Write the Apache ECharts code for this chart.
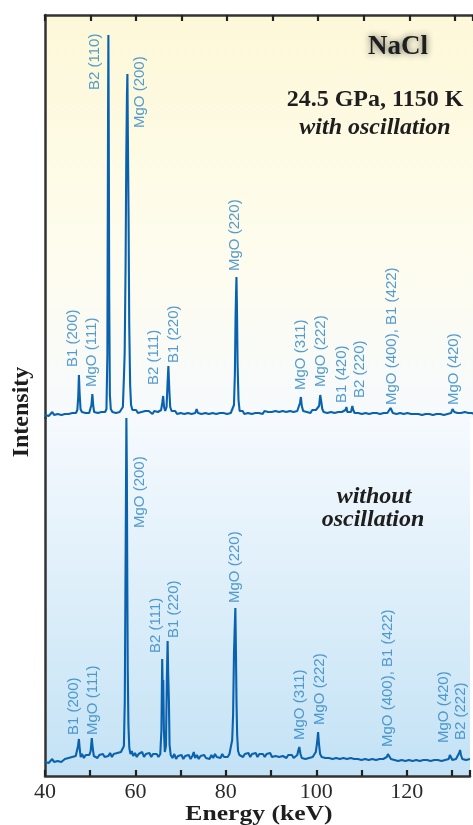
<!DOCTYPE html>
<html>
<head>
<meta charset="utf-8">
<script src="https://cdn.jsdelivr.net/npm/echarts/dist/echarts.min.js"></script>
<style>
  html, body { margin: 0; padding: 0; background: #fff; }
</style>
</head>
<body>
<div id="main" style="width: 473px;height:825px;"></div>
<script type="text/javascript">

    // spectrum with oscillation: [energy keV, intensity]
    var withOsc = [
        [40.0,0],[40.4,2],[40.8,-1],[41.2,1],[41.6,3],[42.0,0],[42.4,2],[42.8,1],[43.2,3],[43.6,0],
        [44.0,2],[44.4,1],[44.8,3],[45.2,1],[45.6,3],[46.0,2],[46.4,4],[46.8,2],[47.1,5],[47.3,18],
        [47.45,40],[47.6,22],[47.8,6],[48.1,3],[48.5,5],[48.9,2],[49.3,4],[49.7,2],[50.0,4],[50.2,10],
        [50.4,21],[50.6,9],[50.8,3],[51.2,5],[51.6,2],[52.0,4],[52.4,3],[52.8,5],[53.2,3],[53.5,6],
        [53.7,60],[53.85,300],[53.92,380],[54.0,290],[54.1,120],[54.25,20],[54.45,6],[54.8,3],[55.2,5],[55.6,2],
        [56.0,4],[56.4,3],[56.8,5],[57.1,8],[57.35,40],[57.5,62],[57.7,150],[57.85,258],[58.0,320],[58.1,341],
        [58.2,280],[58.35,200],[58.5,90],[58.7,30],[58.9,10],[59.2,5],[59.6,3],[60.0,5],[60.4,2],[60.8,4],
        [61.2,3],[61.6,1],[62.0,4],[62.4,2],[62.8,4],[63.2,3],[63.6,1],[64.0,4],[64.4,2],[64.8,3],
        [65.2,2],[65.5,5],[65.75,12],[65.95,19],[66.15,8],[66.4,4],[66.7,8],[66.9,30],[67.1,49],[67.3,25],
        [67.5,8],[67.8,4],[68.2,2],[68.6,4],[69.0,1],[69.4,3],[69.8,2],[70.2,4],[70.6,1],[71.0,3],
        [71.4,2],[71.8,4],[72.2,1],[72.6,3],[73.0,2],[73.3,6],[73.6,2],[74.0,4],[74.4,1],[74.8,3],
        [75.2,2],[75.6,4],[76.0,1],[76.4,3],[76.8,2],[77.2,4],[77.6,1],[78.0,3],[78.4,2],[78.8,4],
        [79.2,2],[79.6,3],[80.0,1],[80.4,3],[80.8,2],[81.2,4],[81.5,10],[81.7,40],[81.85,97],[81.95,120],
        [82.05,138],[82.15,110],[82.3,50],[82.5,15],[82.75,4],[83.0,2],[83.4,4],[83.8,1],[84.2,3],[84.6,2],
        [85.0,4],[85.4,1],[85.8,3],[86.2,2],[86.6,4],[87.0,2],[87.4,3],[87.8,1],[88.2,4],[88.6,2],
        [89.0,3],[89.4,1],[89.8,3],[90.2,2],[90.6,4],[91.0,2],[91.4,3],[91.8,1],[92.2,4],[92.6,2],
        [93.0,3],[93.4,2],[93.8,4],[94.2,2],[94.6,3],[95.0,2],[95.4,4],[95.8,6],[96.0,12],[96.2,18],
        [96.4,9],[96.7,4],[97.1,6],[97.5,3],[97.9,5],[98.3,2],[98.7,5],[99.1,3],[99.5,5],[99.9,4],
        [100.2,9],[100.45,20],[100.65,14],[100.9,6],[101.2,3],[101.6,5],[102.0,2],[102.4,4],[102.8,3],[103.2,5],
        [103.6,2],[104.0,4],[104.4,3],[104.8,5],[105.2,3],[105.6,4],[106.0,5],[106.2,8],[106.4,3],[106.8,4],
        [107.2,3],[107.5,9],[107.7,5],[108.0,2],[108.4,4],[108.8,2],[109.2,3],[109.6,1],[110.0,3],[110.4,2],
        [110.8,4],[111.2,1],[111.6,3],[112.0,2],[112.4,4],[112.8,2],[113.2,3],[113.6,1],[114.0,3],[114.4,2],
        [114.8,4],[115.2,2],[115.6,3],[115.9,7],[116.1,5],[116.4,2],[116.8,3],[117.2,1],[117.6,3],[118.0,2],
        [118.4,3],[118.8,1],[119.2,3],[119.6,2],[120.0,3],[120.4,1],[120.8,2],[121.2,1],[121.6,3],[122.0,1],
        [122.4,2],[122.8,0],[123.2,2],[123.6,1],[124.0,3],[124.4,1],[124.8,2],[125.2,0],[125.6,2],[126.0,1],
        [126.4,3],[126.8,1],[127.2,2],[127.6,0],[128.0,2],[128.4,1],[128.8,3],[129.2,2],[129.5,6],[129.7,8],
        [129.9,3],[130.2,1],[130.6,2],[131.0,0],[131.4,2],[131.8,1],[132.2,3],[132.6,1],[133.0,2],[133.4,0],
        [133.8,2],[134.0,1]
    ];

    // spectrum without oscillation
    var withoutOsc = [
        [40.0,-2],[40.4,0],[40.8,-3],[41.2,-1],[41.6,1],[42.0,-2],[42.4,0],[42.8,-1],[43.2,1],[43.6,-2],
        [44.0,0],[44.4,1],[44.8,-1],[45.2,2],[45.6,0],[46.0,3],[46.4,1],[46.8,4],[47.1,6],[47.3,14],
        [47.5,21],[47.7,10],[47.9,3],[48.2,6],[48.6,2],[49.0,5],[49.4,3],[49.8,5],[50.1,9],[50.35,22],
        [50.55,12],[50.8,4],[51.2,6],[51.6,2],[52.0,5],[52.4,3],[52.8,6],[53.2,3],[53.6,5],[54.0,4],
        [54.4,7],[54.8,3],[55.2,6],[55.6,4],[56.0,7],[56.4,5],[56.8,8],[57.2,6],[57.45,14],[57.65,60],
        [57.8,180],[57.9,260],[58.0,342],[58.1,290],[58.2,180],[58.3,90],[58.45,35],[58.65,12],[58.9,6],[59.2,9],
        [59.5,4],[59.9,7],[60.3,3],[60.7,6],[61.1,4],[61.5,8],[61.9,3],[62.3,6],[62.7,4],[63.1,7],
        [63.5,3],[63.9,6],[64.3,4],[64.7,6],[65.1,3],[65.5,6],[65.75,30],[65.92,101],[66.05,70],[66.15,80],
        [66.3,30],[66.5,8],[66.75,14],[66.95,80],[67.12,119],[67.25,85],[67.4,60],[67.55,15],[67.8,5],[68.2,2],
        [68.6,6],[69.0,1],[69.4,4],[69.8,2],[70.2,5],[70.6,1],[71.0,4],[71.4,2],[71.8,5],[72.2,1],
        [72.6,4],[72.9,8],[73.2,2],[73.6,5],[74.0,1],[74.4,4],[74.8,2],[75.2,5],[75.6,2],[76.0,4],
        [76.4,1],[76.8,5],[77.2,2],[77.6,6],[78.0,3],[78.4,5],[78.8,2],[79.2,6],[79.6,3],[80.0,5],
        [80.4,3],[80.8,6],[81.1,8],[81.4,20],[81.6,45],[81.8,107],[81.95,130],[82.1,152],[82.2,120],[82.35,60],
        [82.5,25],[82.7,9],[83.0,5],[83.4,7],[83.8,3],[84.2,6],[84.6,4],[85.0,7],[85.4,3],[85.8,6],
        [86.2,4],[86.6,7],[87.0,3],[87.4,6],[87.8,4],[88.2,6],[88.6,3],[89.0,6],[89.4,4],[89.8,7],
        [90.2,3],[90.6,5],[91.0,4],[91.4,6],[91.8,3],[92.2,5],[92.6,4],[93.0,6],[93.4,2],[93.8,5],
        [94.2,3],[94.6,5],[95.0,2],[95.4,4],[95.8,5],[96.05,10],[96.25,13],[96.5,6],[96.8,2],[97.2,4],
        [97.6,1],[98.0,3],[98.4,2],[98.8,4],[99.2,3],[99.6,5],[99.9,8],[100.2,18],[100.4,28],[100.6,16],
        [100.85,6],[101.2,3],[101.6,5],[102.0,2],[102.4,4],[102.8,2],[103.2,4],[103.6,1],[104.0,3],[104.4,2],
        [104.8,4],[105.2,1],[105.6,3],[106.0,2],[106.4,4],[106.8,1],[107.2,3],[107.6,2],[108.0,4],[108.4,1],
        [108.8,3],[109.2,1],[109.6,3],[110.0,0],[110.4,2],[110.8,1],[111.2,3],[111.6,0],[112.0,2],[112.4,1],
        [112.8,3],[113.2,0],[113.6,2],[114.0,1],[114.4,3],[114.8,1],[115.2,2],[115.6,3],[115.85,6],[116.0,8],
        [116.2,4],[116.5,1],[116.9,2],[117.3,0],[117.7,2],[118.1,-1],[118.5,1],[118.9,0],[119.3,2],[119.7,-1],
        [120.1,1],[120.5,0],[120.9,2],[121.3,-1],[121.7,1],[122.1,0],[122.5,2],[122.9,-1],[123.3,1],[123.7,0],
        [124.1,2],[124.5,0],[124.9,1],[125.3,-1],[125.7,1],[126.1,0],[126.5,2],[126.9,0],[127.3,1],[127.7,-1],
        [128.1,1],[128.5,0],[128.9,2],[129.3,1],[129.55,5],[129.75,3],[130.1,0],[130.5,2],[130.9,1],[131.3,3],
        [131.6,7],[131.8,10],[132.0,5],[132.3,1],[132.7,2],[133.1,0],[133.5,2],[134.0,1]
    ];

    // peak labels: [text, energy, intensity where the label starts]
    var labelsWithOsc = [
        ['B1 (200)', 46.1, 48], ['MgO (111)', 50.3, 28], ['B2 (110)', 51.0, 325],
        ['MgO (200)', 60.9, 287], ['B2 (111)', 64.0, 30], ['B1 (220)', 68.4, 52],
        ['MgO (220)', 81.6, 144], ['MgO (311)', 96.2, 25], ['MgO (222)', 100.6, 28],
        ['B1 (420)', 105.2, 12], ['B2 (220)', 109.1, 17], ['MgO (400), B1 (422)', 116.2, 10],
        ['MgO (420)', 129.7, 10]
    ];
    var labelsWithoutOsc = [
        ['B1 (200)', 46.4, 25], ['MgO (111)', 50.6, 25], ['MgO (200)', 60.9, 232],
        ['B2 (111)', 64.5, 107], ['B1 (220)', 68.6, 122], ['MgO (220)', 82.1, 157],
        ['MgO (311)', 96.4, 20], ['MgO (222)', 100.8, 35], ['MgO (400), B1 (422)', 115.8, 13],
        ['MgO (420)', 128.3, 17], ['B2 (222)', 131.9, 20]
    ];

    var xMin = 40, xMax = 134, xStep = 10;

    var myChart = echarts.init(document.getElementById('main'));

    var frame = { color: '#333', width: 2.5 };
    var serif = '"Liberation Serif", "Times New Roman", serif';

    function xAx(grid, pos, showLabel) {
        return {
            gridIndex: grid, type: 'value', position: pos,
            min: xMin, max: xMax, interval: xStep,
            axisLine: { show: true, onZero: false, lineStyle: frame },
            axisTick: { show: true, inside: true, length: 6, lineStyle: { color: '#222', width: 2.2 } },
            axisLabel: {
                show: showLabel, margin: 5, color: '#2a2a2a', fontFamily: serif, fontSize: 22,
                formatter: function (v) { return v % 20 === 0 ? String(v) : ''; }
            },
            splitLine: { show: false }
        };
    }
    function yAx(grid, lo, hi) {
        return {
            gridIndex: grid, type: 'value', min: lo, max: hi,
            axisLine: { show: true, onZero: false, lineStyle: frame },
            axisTick: { show: false }, axisLabel: { show: false }, splitLine: { show: false }
        };
    }
    function labelSeries(list, idx) {
        return {
            type: 'scatter', xAxisIndex: idx, yAxisIndex: idx, symbolSize: 0, silent: true, z: 5,
            data: list.map(function (d) { return { name: d[0], value: [d[1], d[2]] }; }),
            label: {
                show: true, position: 'inside', rotate: 90, align: 'left', verticalAlign: 'middle',
                formatter: '{b}', color: '#2a84c6', fontSize: 15,
                fontFamily: '"Liberation Sans", Arial, sans-serif'
            }
        };
    }
    function lineSeries(data, idx) {
        return {
            type: 'line', xAxisIndex: idx, yAxisIndex: idx, data: data,
            showSymbol: false, silent: true, clip: false, z: 3,
            lineStyle: { color: '#0a62ae', width: 2.1 }
        };
    }
    function txt(s, x, y, font, extra) {
        var o = { type: 'text', x: x, y: y, z: 100,
            style: { text: s, font: font, fill: '#1e1e1e', align: 'center', verticalAlign: 'middle' } };
        for (var k in extra) o[k] = extra[k];
        return o;
    }

    var option = {
        animation: false,
        backgroundColor: '#fff',
        grid: [
            { left: 45, right: 0, top: 15, height: 403, show: true, borderWidth: 0,
              backgroundColor: new echarts.graphic.LinearGradient(0, 0, 0, 1, [
                  { offset: 0, color: '#fdf8d8' }, { offset: 0.6, color: '#fefcee' }, { offset: 1, color: '#f6fafd' }]) },
            { left: 45, right: 0, top: 418, height: 358, show: true, borderWidth: 0,
              backgroundColor: new echarts.graphic.LinearGradient(0, 0, 0, 1, [
                  { offset: 0, color: '#f6fafe' }, { offset: 1, color: '#c3e2f5' }]) }
        ],
        xAxis: [xAx(0, 'top', false), xAx(1, 'bottom', true)],
        yAxis: [yAx(0, -3, 400), yAx(1, -16, 342)],
        series: [
            lineSeries(withOsc, 0), lineSeries(withoutOsc, 1),
            labelSeries(labelsWithOsc, 0), labelSeries(labelsWithoutOsc, 1)
        ],
        graphic: [
            txt('NaCl', 398, 47, 'bold 27px ' + serif, {}),
            txt('24.5 GPa, 1150 K', 375, 100, 'bold 24px ' + serif, {}),
            txt('with oscillation', 375, 128, 'italic bold 24px ' + serif, {}),
            txt('without', 374, 497, 'italic bold 24px ' + serif, {}),
            txt('oscillation', 373, 520, 'italic bold 24px ' + serif, {}),
            txt('Intensity', 22, 412, 'bold 24px ' + serif, { rotation: Math.PI / 2 }),
            txt('Energy (keV)', 259, 815, 'bold 21px ' + serif, { scaleX: 1.22 })
        ]
    };
    // soft shadow behind the sample name
    option.graphic[0].style.textShadowBlur = 7;
    option.graphic[0].style.textShadowColor = 'rgba(30,30,30,0.7)';

    myChart.setOption(option);
</script>
</body>
</html>
